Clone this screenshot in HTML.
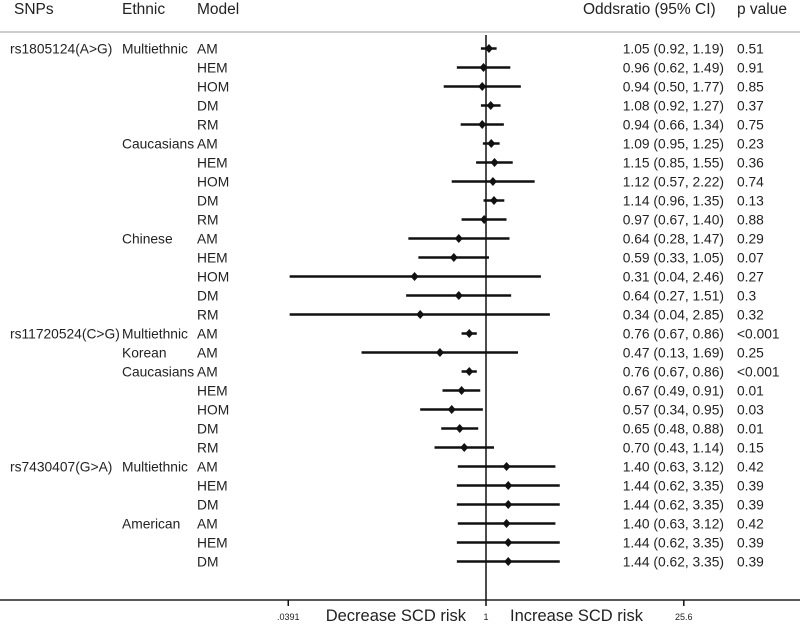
<!DOCTYPE html>
<html><head><meta charset="utf-8"><style>
body{margin:0;background:#fff;}
svg{display:block;font-family:"Liberation Sans",sans-serif;}
</style></head><body>
<svg id="c" width="800" height="625"></svg>
<script>
const snps=["rs1805124(A>G)","","","","","","","","","","","","","","","rs11720524(C>G)","","","","","","","rs7430407(G>A)","","","","",""];
const ethnic=["Multiethnic","","","","","Caucasians","","","","","Chinese","","","","","Multiethnic","Korean","Caucasians","","","","","Multiethnic","","","American","",""];
const models=["AM","HEM","HOM","DM","RM","AM","HEM","HOM","DM","RM","AM","HEM","HOM","DM","RM","AM","AM","AM","HEM","HOM","DM","RM","AM","HEM","DM","AM","HEM","DM"];
const orv=[1.05,0.96,0.94,1.08,0.94,1.09,1.15,1.12,1.14,0.97,0.64,0.59,0.31,0.64,0.34,0.76,0.47,0.76,0.67,0.57,0.65,0.70,1.40,1.44,1.44,1.40,1.44,1.44];
const lo=[0.92,0.62,0.50,0.92,0.66,0.95,0.85,0.57,0.96,0.67,0.28,0.33,0.04,0.27,0.04,0.67,0.13,0.67,0.49,0.34,0.48,0.43,0.63,0.62,0.62,0.63,0.62,0.62];
const hi=[1.19,1.49,1.77,1.27,1.34,1.25,1.55,2.22,1.35,1.40,1.47,1.05,2.46,1.51,2.85,0.86,1.69,0.86,0.91,0.95,0.88,1.14,3.12,3.35,3.35,3.12,3.35,3.35];
const pv=["0.51","0.91","0.85","0.37","0.75","0.23","0.36","0.74","0.13","0.88","0.29","0.07","0.27","0.3","0.32","<0.001","0.25","<0.001","0.01","0.03","0.01","0.15","0.42","0.39","0.39","0.42","0.39","0.39"];
const xmin=0.0391;
const xmax=25.6;
const svg=document.getElementById('c');
const NS="http://www.w3.org/2000/svg";
function X(v){return 486+61*Math.log(v);}
function Y(i){return 48.5+i*19.0;}
function mk(tag,a,txt){const e=document.createElementNS(NS,tag);for(const k in a)e.setAttribute(k,a[k]);if(txt!==undefined)e.textContent=txt;svg.appendChild(e);return e;}
function f2(v){return v.toFixed(2);}
let e;
const HF=15.5, RF=13.8;
e=mk('text',{x:14,y:14,'font-size':HF,fill:'#222'},'SNPs');
e=mk('text',{x:122,y:14,'font-size':HF,fill:'#222'},'Ethnic');
e=mk('text',{x:197,y:14,'font-size':HF,fill:'#222'},'Model');
e=mk('text',{x:583,y:14,'font-size':HF,fill:'#222'},'Oddsratio (95% CI)');
e=mk('text',{x:737,y:14,'font-size':HF,fill:'#222'},'p value');
e=mk('line',{x1:0,y1:32,x2:800,y2:32,stroke:'#bbb','stroke-width':1.5});
e=mk('line',{x1:0,y1:600,x2:800,y2:600,stroke:'#222','stroke-width':1.5});
e=mk('line',{x1:X(1),y1:35,x2:X(1),y2:606,stroke:'#111','stroke-width':1.5});
e=mk('line',{x1:X(xmin),y1:600,x2:X(xmin),y2:606,stroke:'#111','stroke-width':1.5});
e=mk('line',{x1:X(xmax),y1:600,x2:X(xmax),y2:606,stroke:'#111','stroke-width':1.5});
e=mk('text',{x:X(1),y:620,'font-size':9,'text-anchor':'middle',fill:'#222'},'1');
e=mk('text',{x:X(xmin),y:620,'font-size':9,'text-anchor':'middle',fill:'#222'},'.0391');
e=mk('text',{x:X(xmax),y:620,'font-size':9,'text-anchor':'middle',fill:'#222'},'25.6');
e=mk('text',{x:466,y:621,'font-size':16.5,'text-anchor':'end',fill:'#222'},'Decrease SCD risk');
e=mk('text',{x:510,y:621,'font-size':16.5,fill:'#222'},'Increase SCD risk');
for(let i=0;i<orv.length;i++){
  const y=Y(i);
  if(snps[i]){e=mk('text',{x:10,y:y+5,'font-size':RF,fill:'#222'},snps[i]);}
  if(ethnic[i]){e=mk('text',{x:122,y:y+5,'font-size':RF,fill:'#222'},ethnic[i]);}
  e=mk('text',{x:197,y:y+5,'font-size':RF,fill:'#222'},models[i]);
  e=mk('text',{x:724,y:y+5,'font-size':RF,'text-anchor':'end',fill:'#222'},f2(orv[i])+' ('+f2(lo[i])+', '+f2(hi[i])+')');
  e=mk('text',{x:737,y:y+5,'font-size':RF,fill:'#222'},pv[i]);
  const clipped=lo[i]<xmin;
  const x1=X(Math.max(lo[i],xmin)),x2=X(hi[i]);
  e=mk('line',{x1:x1,y1:y,x2:x2,y2:y,stroke:'#111','stroke-width':2.5});
  if(clipped){e=mk('path',{d:`M${x1+10},${y-6} L${x1},${y} L${x1+10},${y+6}`,stroke:'#111','stroke-width':2.5,fill:'none'});}
  const cx=X(orv[i]);
  e=mk('path',{d:`M${cx-4},${y} L${cx},${y-4.5} L${cx+4},${y} L${cx},${y+4.5}Z`,fill:'#111'});
}
</script>
</body></html>
